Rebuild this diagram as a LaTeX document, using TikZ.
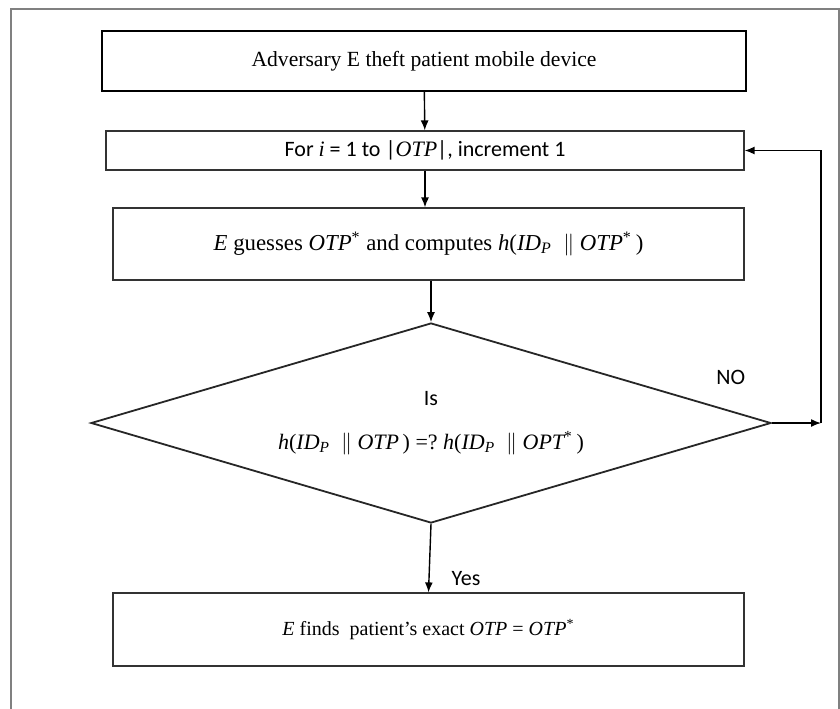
\documentclass[tikz,border=0pt]{standalone}
\usepackage{fontspec}
\setmainfont{Liberation Serif}
\setsansfont{Carlito}
\usetikzlibrary{arrows.meta, positioning, shapes.geometric}
\newcommand{\sym}[1]{{\rmfamily\itshape #1}}
\tikzset{
  >={Latex[length=5pt, width=4pt]}, % filled arrow heads
  process/.style={draw=black!80, line width=0.6pt, rectangle, inner sep=0pt,
    align=center, font=\fontsize{11}{13}\selectfont}, % plain step box
  decision/.style={draw=black!85, line width=0.9pt, diamond, aspect=3.4,
    inner sep=0pt, minimum width=340pt, minimum height=100pt, align=center,
    font=\fontsize{11}{13}\selectfont}, % the test
  answer/.style={inner sep=0pt, font=\sffamily\fontsize{11}{13}\selectfont},
}

\begin{document}
\begin{tikzpicture}[x=0.5pt, y=-0.5pt, flow/.style={->, line width=0.7pt}]
    \useasboundingbox (0,0) rectangle (840,708);
    % outer frame, open at the bottom
    \draw[gray, line width=1pt] (11,712) -- (11,9) -- (839,9) -- (839,712);

    \node[process, draw=black, line width=1.2pt, minimum width=322pt,
      minimum height=30pt, font=\fontsize{10.8}{13}\selectfont] (theft)
      at (424,61) {Adversary E theft patient mobile device};
    \node[process, font=\sffamily\fontsize{11}{13}\selectfont,
      minimum width=319pt, minimum height=19.5pt] (loop) at (425,150.5)
      {For \sym{i} = 1 to |\sym{OTP}|, increment 1};
    \node[process, minimum width=315.5pt, minimum height=36pt,
      font=\fontsize{11.4}{13}\selectfont] (guess) at (428.5,244)
      {\sym{E} guesses \sym{OTP}\textsuperscript{*} and computes
      \sym{h}(\sym{ID}\textsubscript{\sym{P}}\ \ $\parallel$
      \sym{OTP}\textsuperscript{*}\,)};
    \node[decision] (check) at (431,423)
      {\textsf{Is}\\[9pt]
      \sym{h}(\sym{ID}\textsubscript{\sym{P}}\ \ $\parallel$ \sym{OTP}\,)
      =?\ \sym{h}(\sym{ID}\textsubscript{\sym{P}}\ \ $\parallel$
      \sym{OPT}\textsuperscript{*}\,)};
    \node[process, minimum width=315.5pt, minimum height=36.5pt,
      font=\fontsize{10}{13}\selectfont] (found) at (428.5,629.5)
      {\sym{E} finds\ \ patient's exact \sym{OTP} = \sym{OTP}\textsuperscript{*}};
    \coordinate (back) at (821,423);

    \draw[flow] (theft) -- (loop);
    \draw[flow] (loop.south) -- (loop.south |- guess.north);
    \draw[flow] (guess.south -| check.north) -- (check.north);
    \draw[flow] (check.south) -- node[answer, pos=0.8, right=11pt] {Yes}
      (found.north);
    \draw[flow] (check.east) -- node[answer, pos=0, above left=19pt and 13pt]
      {NO} (back);
    \draw[flow] (back) |- (loop.east);
\end{tikzpicture}
\end{document}
